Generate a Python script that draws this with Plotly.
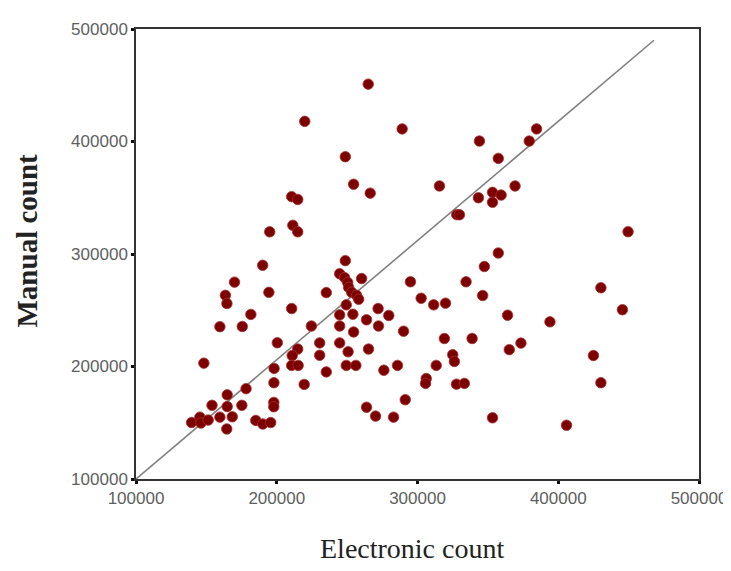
import plotly.graph_objects as go

# Electronic count (x) and Manual count (y)
electronic = [
    265000, 219900, 289100, 248700, 254600, 266400, 210600, 214900, 211400, 214900,
    195000, 315600, 327900, 384600, 379400, 344000, 357400, 369300, 353300, 359400,
    353300, 343300, 329800, 449600, 357400, 347500, 334500, 430300, 346300, 364000,
    394100, 445600, 338800, 319100, 373500, 365200, 325000, 326200, 425000, 327700,
    333300, 430300, 353300, 405900, 313300, 306200, 305700, 291300, 311500, 319900,
    302600, 295000, 290100,
    248700, 244700, 248200, 250400, 260300, 251100, 253200, 256700, 258200, 249400,
    235200, 272000, 279600, 244700, 254100, 263800, 244700, 224600, 254600, 272300,
    230500, 244700, 265200, 250700, 230500, 214900, 211000, 210600, 215200, 249400,
    256200, 276100, 285800, 235200, 219500, 263800, 270200, 283000, 210600, 200400,
    190000, 170000, 163500, 164600, 194400, 181600, 159600, 175500, 148200, 198100,
    198000, 178200, 164800, 154000, 164800, 175200, 197900, 197900, 139500, 145400,
    146100, 151300, 159600, 168400, 164500, 185100, 190100, 195700,
]
manual = [
    451000, 417900, 411200, 386500, 362000, 354100, 351000, 348500, 325500, 319700,
    319700, 360500, 335000, 411200, 400400, 400400, 385000, 360500, 354800, 352400,
    346000, 350000, 334900, 319800, 300900, 288900, 275300, 270000, 263100, 245600,
    239700, 250500, 224900, 224900, 220800, 215000, 210500, 204500, 209800, 184300,
    185000, 185600, 154400, 147800, 201000, 189300, 185000, 170500, 254800, 256300,
    260700, 275300, 231400,
    294100, 282500, 279000, 274700, 278200, 270300, 266000, 263300, 259800, 254800,
    265700, 251500, 245400, 245900, 246500, 241500, 236000, 236000, 230700, 236000,
    221000, 221000, 215500, 213100, 210000, 215500, 209800, 201000, 201000, 201000,
    201000, 196700, 201000, 195200, 184100, 163800, 155900, 155000, 251500, 221100,
    290000, 275000, 263300, 256000, 265900, 246300, 235400, 235600, 203000, 198300,
    185600, 180300, 174800, 165500, 164400, 165500, 168100, 164200, 150200, 155000,
    149800, 152400, 155000, 155300, 144500, 152100, 148900, 150200,
]

# Reference line drawn on the chart
line_x = [100000, 468000]
line_y = [100000, 490000]

x_ticks = [100000, 200000, 300000, 400000, 500000]
y_ticks = [100000, 200000, 300000, 400000, 500000]

fig = go.Figure()
fig.add_trace(go.Scatter(
    x=line_x, y=line_y, mode="lines",
    line=dict(color="#808080", width=1.6),
    hoverinfo="skip", showlegend=False,
))
fig.add_trace(go.Scatter(
    x=electronic, y=manual, mode="markers",
    marker=dict(size=10.5, color="#7d0000", symbol="circle",
                line=dict(color="#a83030", width=0.8)),
    showlegend=False,
))

axis_common = dict(
    showgrid=False, zeroline=False,
    showline=True, mirror=True, linecolor="#333333", linewidth=1.5,
    ticks="outside", ticklen=3, tickwidth=2.5, tickcolor="#111111",
    tickfont=dict(family="Liberation Sans", size=17, color="#5e6060"),
)

# the page adds an 8px body margin, so the figure is shifted up/left by 8px
fig.update_layout(
    width=731, height=571,
    margin=dict(l=128, r=39, t=13, b=100),
    paper_bgcolor="white", plot_bgcolor="white",
    xaxis=dict(range=[100000, 500000], tickvals=x_ticks,
               ticktext=[str(v) for v in x_ticks], **axis_common),
    yaxis=dict(range=[100000, 500000], tickvals=y_ticks,
               ticktext=[str(v) for v in y_ticks], **axis_common),
    annotations=[
        dict(text="Electronic count", xref="paper", yref="paper",
             x=0.49, y=0, xanchor="center", yanchor="middle", yshift=-69,
             showarrow=False,
             font=dict(family="Liberation Serif", size=28, color="#222222")),
        dict(text="<b>Manual count</b>", xref="paper", yref="paper",
             x=0, y=0.53, xanchor="center", yanchor="middle", xshift=-110,
             textangle=-90, showarrow=False,
             font=dict(family="Liberation Serif", size=29, color="#222222")),
    ],
)

fig.write_html("out.html")
